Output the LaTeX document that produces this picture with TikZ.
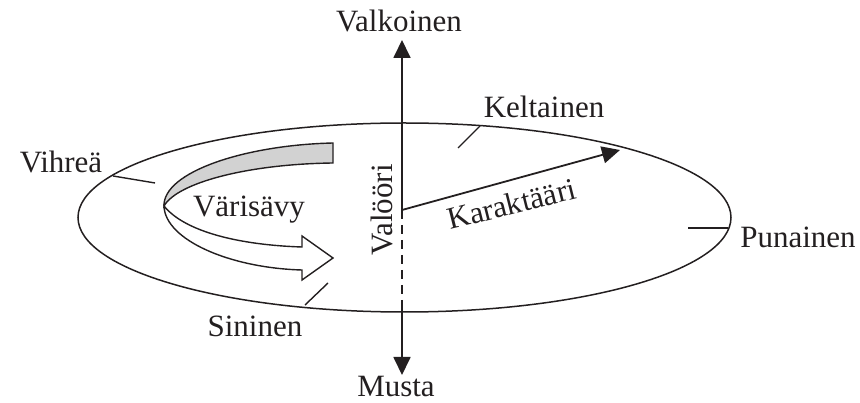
\documentclass[tikz,border=0pt]{standalone}
\usepackage{fontspec}
\setmainfont{Liberation Serif}
\usetikzlibrary{arrows.meta}
\definecolor{ink}{HTML}{231F20}
\definecolor{ribbongray}{HTML}{D2D2D2}
\tikzset{
  lbl/.style={inner sep=0pt, anchor=base, text=ink, font=\fontsize{31}{37}\selectfont},
  axis/.style={draw=ink, line width=1.8pt},
  bigarrow/.style={axis, -{Triangle[width=17pt,length=18pt]}},
  rim/.style={draw=ink, line width=1.5pt},
  tick/.style={draw=ink, line width=1.4pt},
  ribbon/.style={draw=ink, line width=1.4pt, line join=miter}
}
\begin{document}
\begin{tikzpicture}[x=1pt,y=-1pt]
\useasboundingbox (0,0) rectangle (860,403);
% ellipse
\draw[rim] (404.5,217.5) ellipse [x radius=326.5pt, y radius=94.5pt];
% coordinates
\coordinate (O) at (402,210);
\coordinate (top) at (402,40);
\coordinate (dashend) at (402,308);
\coordinate (bot) at (402,375);
\coordinate (kar) at (620,150);
% axes
\draw[bigarrow] (O) -- (top);
\draw[axis, dash pattern=on 9pt off 6pt] (O) -- (dashend);
\draw[bigarrow] (dashend) -- (bot);
\draw[bigarrow] (O) -- (kar);
% ticks
\coordinate (t1a) at (113,176); \coordinate (t1b) at (155,183);
\coordinate (t2a) at (480,126); \coordinate (t2b) at (458,148);
\coordinate (t3a) at (728,228); \coordinate (t3b) at (688,228);
\coordinate (t4a) at (305,305); \coordinate (t4b) at (328,283);
\draw[tick] (t1a) -- (t1b);
\draw[tick] (t2a) -- (t2b);
\draw[tick] (t3a) -- (t3b);
\draw[tick] (t4a) -- (t4b);
% ribbon arrow
\draw[ribbon, fill=ribbongray] (333,143) .. controls (245,145) and (163,172) .. (164,206)
  .. controls (178,182) and (250,164) .. (333,163) -- cycle;
\draw[ribbon, fill=white] (164,206) .. controls (165,240) and (230,268) .. (302,270)
  -- (302,280) -- (333,258) -- (302,236) -- (302,247)
  .. controls (240,245) and (185,232) .. (164,206) -- cycle;
% labels
\node[lbl] (valkoinen) at (399,32) {Valkoinen};
\node[lbl] (musta) at (396,397) {Musta};
\node[lbl] (keltainen) at (544,118) {Keltainen};
\node[lbl] (vihrea) at (61,173) {Vihreä};
\node[lbl] (punainen) at (798,248) {Punainen};
\node[lbl] (sininen) at (255,337) {Sininen};
\node[lbl] (varisavy) at (249,217) {Värisävy};
\node[lbl, rotate=90] (valoori) at (392,210) {Valööri};
\node[lbl, rotate=14] (karaktaari) at (514,214) {Karaktääri};
\end{tikzpicture}
\end{document}
